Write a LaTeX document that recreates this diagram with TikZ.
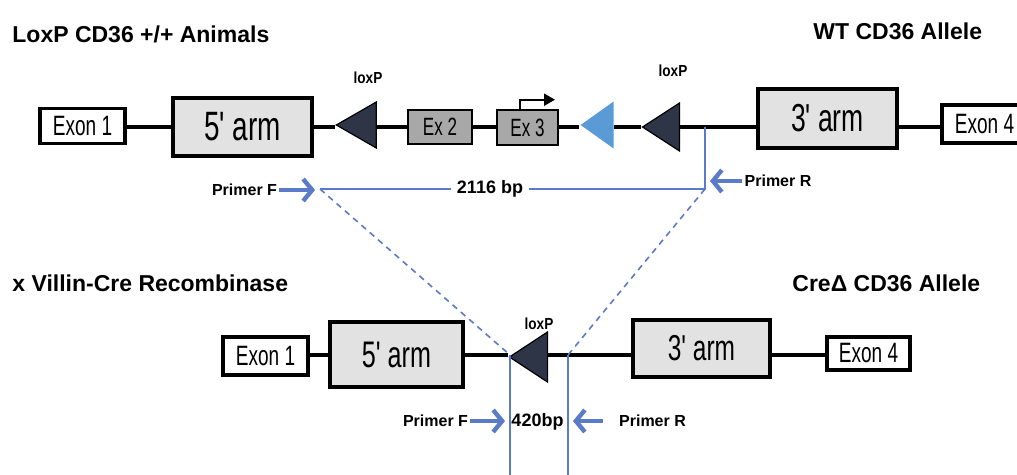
\documentclass[tikz,border=0pt]{standalone}
\usepackage{fontspec}
\setmainfont{Liberation Sans}
\newfontfamily\narrowfont[FakeStretch=0.68]{Liberation Sans}
\newfontfamily\condfont[FakeStretch=0.85]{Liberation Sans}
\usepackage{tikz}
\usetikzlibrary{arrows.meta,calc,positioning,shapes.geometric}
\definecolor{primerblue}{HTML}{5B7BC8}
\definecolor{loxdark}{HTML}{2E3547}
\definecolor{loxblue}{HTML}{5B9BD5}
\definecolor{armgray}{HTML}{E2E2E2}
\definecolor{exgray}{HTML}{A8A8A8}

\tikzset{
  exonbox/.style={draw,line width=1.7pt,fill=white,inner sep=0pt,
    font=\narrowfont\fontsize{14}{14}\selectfont},
  armbox/.style={draw,line width=1.8pt,fill=armgray,inner sep=0pt},
  exbox/.style={draw,line width=1.3pt,fill=exgray,inner sep=0pt,
    font=\narrowfont\fontsize{12.5}{12.5}\selectfont},
  loxtri/.style={isosceles triangle,isosceles triangle stretches,
    shape border rotate=180,inner sep=0pt,fill=loxdark,draw=black,line width=0.6pt},
  backbone/.style={line width=1.8pt},
  ampline/.style={primerblue,line width=1.1pt},
  primer/.style={primerblue,line width=2.2pt,-{Straight Barb[length=4.5pt,width=11pt]}},
  heading/.style={font=\bfseries\fontsize{11.5}{13}\selectfont,anchor=base west,inner sep=0pt},
  primerlabel/.style={font=\bfseries\fontsize{8}{9}\selectfont,inner sep=1pt},
  loxlabel/.style={font=\condfont\bfseries\fontsize{8}{9}\selectfont,inner sep=0pt},
  sizelabel/.style={font=\bfseries\fontsize{9}{10}\selectfont,inner sep=3pt,fill=white}
}

\begin{document}
\begin{tikzpicture}[x=0.5pt,y=-0.5pt]
  \path[use as bounding box] (0,0) rectangle (1017,475);
  \clip (0,0) rectangle (1017,475);
  \coordinate (rowA) at (0,127);
  \coordinate (rowB) at (0,355);
  \coordinate (floor) at (0,475);

  % Headings
  \node[heading] (hdA) at (12,43) {LoxP CD36 +/+ Animals};
  \node[heading] (hdB) at (813,40) {WT CD36 Allele};
  \node[heading] (hdC) at (12,292) {x Villin-Cre  Recombinase};
  \node[heading] (hdD) at (792,292) {CreΔ CD36 Allele};

  % WT allele
  \node[exonbox,minimum width=42.5pt,minimum height=17.5pt] (exA1) at (82.5,126) {Exon 1};
  \node[armbox,minimum width=69.5pt,minimum height=29pt,
    font=\narrowfont\fontsize{20.5}{20.5}\selectfont] (armA5) at (242.5,127) {5' arm};
  \node[loxtri,minimum height=20pt,minimum width=23pt] (loxA1) at (363,125) {};
  \node[exbox,minimum width=32pt,minimum height=17pt] (exA2) at (440,127) {Ex 2};
  \node[exbox,minimum width=30.5pt,minimum height=17.5pt] (exA3) at (527.5,127.5) {Ex 3};
  \node[loxtri,fill=loxblue,draw=none,minimum height=16.5pt,minimum width=23.5pt]
    (loxA2) at (601.5,125) {};
  \node[loxtri,minimum height=18.5pt,minimum width=24pt] (loxA3) at (666.5,127) {};
  \node[armbox,minimum width=69.5pt,minimum height=29.5pt,
    font=\narrowfont\fontsize{19.5}{19.5}\selectfont] (armA3) at (827.5,118.5) {3' arm};
  \node[exonbox,minimum width=42.5pt,minimum height=19pt] (exA4) at (984.5,124) {Exon 4};
  \foreach \a/\b in {exA1/armA5,armA5/loxA1,loxA1/exA2,exA2/exA3,exA3/loxA2,
                     loxA2/loxA3,loxA3/armA3,armA3/exA4}{
    \draw[backbone] (\a.east |- rowA) -- (\b.west |- rowA);
  }
  \draw[line width=1.1pt,-{Triangle[length=5.5pt,width=6pt]}]
    ([xshift=-3.75pt]exA3.north) -- ++(0,-9) -- ++(35,0);
  \node[loxlabel] (lxA1) at (368,78) {loxP};
  \node[loxlabel] (lxA3) at (673,71) {loxP};

  % Cre-deleted allele
  \node[exonbox,minimum width=42.5pt,minimum height=19pt] (exB1) at (265.5,356) {Exon 1};
  \node[armbox,minimum width=66.5pt,minimum height=32.5pt,
    font=\narrowfont\fontsize{18.5}{18.5}\selectfont] (armB5) at (396.5,354.5) {5' arm};
  \node[loxtri,minimum height=19pt,minimum width=25pt] (loxB) at (534,357) {};
  \node[armbox,minimum width=68.5pt,minimum height=28.5pt,
    font=\narrowfont\fontsize{18}{18}\selectfont] (armB3) at (701.5,348.5) {3' arm};
  \node[exonbox,minimum width=41.5pt,minimum height=16.5pt] (exB4) at (868.5,353.5) {Exon 4};
  \foreach \a/\b in {exB1/armB5,armB5/loxB,loxB/armB3,armB3/exB4}{
    \draw[backbone] (\a.east |- rowB) -- (\b.west |- rowB);
  }
  \node[loxlabel] (lxB) at (539,324) {loxP};

  % PCR products
  \coordinate (pfa) at (320,189);
  \coordinate (pra) at (705,189);
  \coordinate (pfb) at (510,355);
  \coordinate (prb) at (568,355);
  \draw[ampline] (pra |- rowA) -- (pra) -- (pfa);
  \node[sizelabel] (bpA) at (490,189) {2116 bp};
  \draw[ampline,dashed,dash pattern=on 3pt off 2.5pt,line width=0.8pt] (pfa) -- (pfb);
  \draw[ampline,dashed,dash pattern=on 3pt off 2.5pt,line width=0.8pt] (pra) -- (prb);
  \draw[ampline] (pfb) -- (pfb |- floor);
  \draw[ampline] (prb) -- (prb |- floor);
  \node[sizelabel,fill=none,inner sep=0pt] (bpB) at (537.5,422) {420bp};

  % Primers
  \node[primerlabel] (pfA) at (244.5,190) {Primer F};
  \draw[primer,shorten >=2.5pt] (pfA.east) -- (pfA.east -| pfa);
  \node[primerlabel] (prA) at (778,181) {Primer R};
  \draw[primer,shorten >=2.5pt] (prA.west) -- (prA.west -| pra);
  \node[primerlabel] (pfB) at (435.5,421) {Primer F};
  \draw[primer,shorten >=2.5pt] (pfB.east) -- (pfB.east -| pfb);
  \node[primerlabel] (prB) at (652.5,421) {Primer R};
  \draw[primer,shorten >=2.5pt] ([xshift=-7pt]prB.west) -- (prB.west -| prb);
\end{tikzpicture}
\end{document}
